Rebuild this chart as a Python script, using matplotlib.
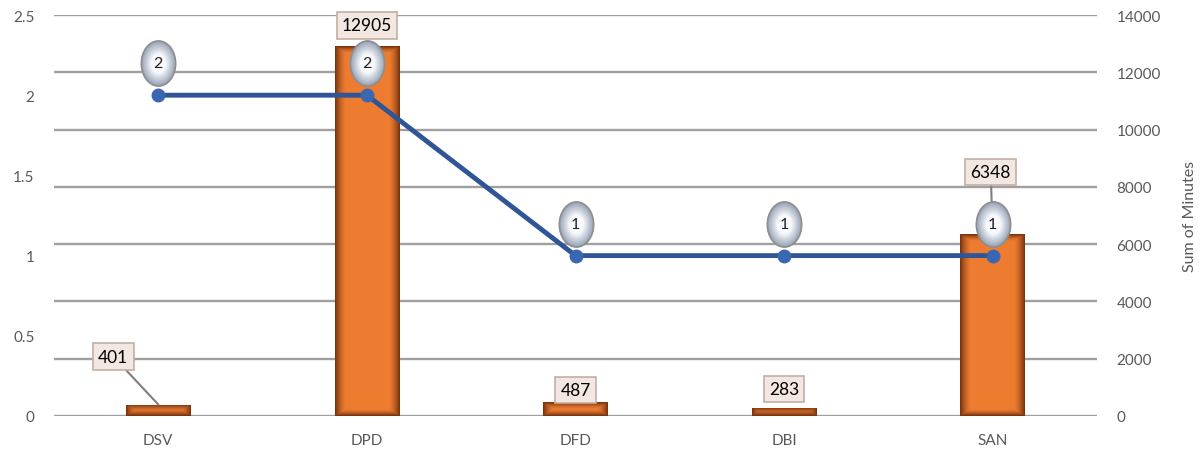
import numpy as np
import matplotlib
matplotlib.use('Agg')
import matplotlib.pyplot as plt
from matplotlib.path import Path
from matplotlib.transforms import Affine2D, offset_copy
from matplotlib.colors import to_rgb

# ---- data ----
categories = ['DSV', 'DPD', 'DFD', 'DBI', 'SAN']
minutes = [401, 12905, 487, 283, 6348]
counts = [2, 2, 1, 1, 1]
left_ticks = [0, 0.5, 1, 1.5, 2, 2.5]
left_tick_labels = ['0', '0.5', '1', '1.5', '2', '2.5']
right_ticks = [0, 2000, 4000, 6000, 8000, 10000, 12000, 14000]

# ---- style ----
bar_label_offsets = [(-45, 48), (0, 21), (0, 12), (0, 19), (-2, 62)]  # pixels
bar_label_leader = [True, False, False, False, True]
ellipse_offset = 32  # pixels
tick_fs = 11
tick_col = '#595959'

plt.rcParams['font.family'] = ['Lato', 'DejaVu Sans']
W, H = 1203, 456
fig = plt.figure(figsize=(W / 100, H / 100), dpi=100)
ax = fig.add_axes([54 / W, 39 / H, 1043 / W, 401 / H])
ax2 = ax.twinx()

x = np.arange(len(categories))
bars = ax.bar(x, minutes, width=0.31, color='#ED7D31', zorder=2)
ax.set_xlim(-0.5, len(categories) - 0.5)
ax.set_ylim(0, 14000)
ax.set_autoscale_on(False)
ax.set_yticks(right_ticks)
ax.yaxis.tick_right()
ax.yaxis.set_label_position('right')
ax.set_ylabel('Sum of Minutes', fontsize=11.5, color=tick_col, labelpad=16)
ax.tick_params(axis='y', length=0, pad=14, labelsize=tick_fs, labelcolor=tick_col,
               left=False, labelleft=False, right=True, labelright=True)
ax.set_xticks(x, categories)
ax.tick_params(axis='x', length=0, pad=12, labelsize=tick_fs, labelcolor=tick_col)
ax.yaxis.grid(True, color='#A0A0A0', lw=1.7)
ax.set_axisbelow(True)
for s in ax.spines.values():
    s.set_visible(False)

# gradient fill of bars (inner shadow)
fig.canvas.draw()
orange = np.array(to_rgb('#ED7D31'))
brown = np.array(to_rgb('#7A3410'))
for b in bars:
    x0, y0 = b.get_x(), b.get_y()
    x1, y1 = x0 + b.get_width(), y0 + b.get_height()
    p0 = ax.transData.transform((x0, y0))
    p1 = ax.transData.transform((x1, y1))
    wpx = max(int(round(p1[0] - p0[0])), 2)
    hpx = max(int(round(p1[1] - p0[1])), 2)
    i = np.arange(wpx)
    j = np.arange(hpx)
    dx = np.minimum(i, wpx - 1 - i)[None, :]
    dy = np.minimum(j, hpx - 1 - j)[:, None]
    d = np.minimum(dx * 1.0, dy * 1.6)
    dark = np.clip(1 - d / 11.0, 0, 1) ** 1.6
    img = orange[None, None, :] * (1 - dark[..., None]) + brown[None, None, :] * dark[..., None]
    im = ax.imshow(img, extent=[x0, x1, y0, y1], aspect='auto', zorder=2.1,
                   interpolation='bilinear', origin='lower')
    im.set_clip_path(b)

# bar value labels
for b, v, (ox, oy), lead in zip(bars, minutes, bar_label_offsets, bar_label_leader):
    xc = b.get_x() + b.get_width() / 2
    kw = {}
    if lead:
        kw['arrowprops'] = dict(arrowstyle='-', color='#7F7F7F', lw=1.5,
                                shrinkA=0, shrinkB=0)
    ax.annotate(f'{v}', xy=(xc, v), xytext=(ox, oy), textcoords='offset pixels',
                ha='center', va='center', fontsize=12.5, color='black', zorder=4,
                bbox=dict(boxstyle='square,pad=0.3', fc='#F2E8E1', ec='#C4AFA2', lw=1.2),
                **kw)

# count line
ax2.set_ylim(0, 2.5)
ax2.set_yticks(left_ticks, left_tick_labels)
ax2.tick_params(axis='y', length=0, pad=14, labelsize=tick_fs, labelcolor=tick_col,
                left=True, labelleft=True, right=False, labelright=False)
for s in ax2.spines.values():
    s.set_visible(False)
ax2.plot(x, counts, color='#2F5597', lw=3.5, marker='o', ms=9,
         mfc='#3A67B1', mec='#3A67B1', zorder=3, solid_capstyle='round')

# ellipse labels with gradient
ell = Path.unit_circle().transformed(Affine2D().scale(0.76, 1.0))
off = offset_copy(ax2.transData, fig=fig, x=0, y=ellipse_offset, units='dots')
edge_c = np.array(to_rgb('#9AA6B8'))
center_c = np.array(to_rgb('#F7F9FC'))
nlay = 8
for k in range(nlay):
    t = k / (nlay - 1)
    col = edge_c * (1 - t) + center_c * t
    ms = 32.5 * (1 - 0.55 * t)
    ax2.plot(x, counts, ls='none', marker=ell, ms=ms, mfc=col,
             mec='#8E8E8E' if k == 0 else col, mew=1.2 if k == 0 else 0,
             transform=off, zorder=5 + k * 0.01)
for xi, c in zip(x, counts):
    ax2.text(xi, c, f'{c}', transform=off, ha='center', va='center',
             fontsize=11.5, color='#222222', zorder=6)

fig.savefig('out.png', dpi=100)
